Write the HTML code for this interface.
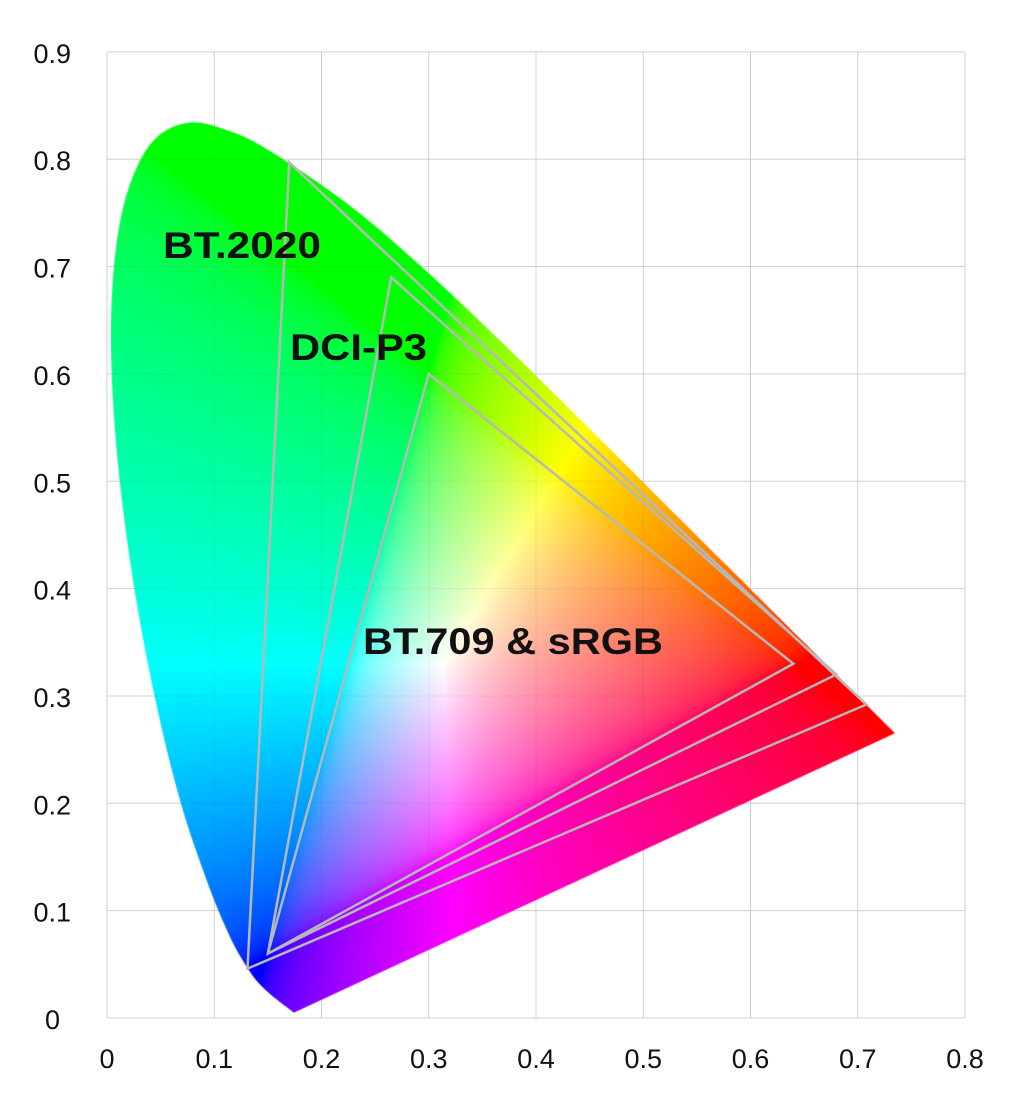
<!DOCTYPE html>
<html><head><meta charset="utf-8"><style>
html,body{margin:0;padding:0;background:#fff;}
#wrap{position:relative;width:1010px;height:1110px;}
canvas,svg{position:absolute;left:0;top:0;display:block;}
svg{font-family:"Liberation Sans",sans-serif;}
</style></head><body>
<div id="wrap">
<svg id="gridSvg" width="1010" height="1110"><g id="grid"></g></svg>
<canvas id="cv" width="1010" height="1110"></canvas>
<svg id="chart" width="1010" height="1110" viewBox="0 0 1010 1110" xmlns="http://www.w3.org/2000/svg">
<g id="gridOver"></g>
<g id="tris"></g>
<g id="axes"></g>
<g id="labels"></g>
</svg>
</div>
<script>
const locusX=[0.1741,0.1440,0.1241,0.1096,0.0913,0.0687,0.0454,0.0235,0.0082,0.0039,0.0139,0.0389,0.0743,0.1142,0.1547,0.2296,0.3016,0.3731,0.4441,0.5125,0.5752,0.6270,0.6915,0.7190,0.7347];
const locusY=[0.0050,0.0297,0.0578,0.0868,0.1327,0.2007,0.2950,0.4127,0.5384,0.6548,0.7502,0.8120,0.8338,0.8262,0.8059,0.7543,0.6923,0.6245,0.5547,0.4866,0.4242,0.3725,0.3083,0.2809,0.2653];
const gamutNames=["BT.2020","DCI-P3","BT.709 & sRGB"];
const gamutX=[[0.708,0.170,0.131],[0.680,0.265,0.150],[0.640,0.300,0.150]];
const gamutY=[[0.292,0.797,0.046],[0.320,0.690,0.060],[0.330,0.600,0.060]];
const xTicks=["0","0.1","0.2","0.3","0.4","0.5","0.6","0.7","0.8"];
const yTicks=["0","0.1","0.2","0.3","0.4","0.5","0.6","0.7","0.8","0.9"];
const NS="http://www.w3.org/2000/svg";
const X=v=>107+v*1072.5, Y=v=>1018-v*1073.5;
const invX=p=>(p-107)/1072.5, invY=p=>(1018-p)/1073.5;
function mk(t,a,p){const e=document.createElementNS(NS,t);for(const k in a)e.setAttribute(k,a[k]);p.appendChild(e);return e;}
const grid=document.getElementById('grid'),over=document.getElementById('gridOver'),axes=document.getElementById('axes');
xTicks.forEach((t,i)=>{const x=X(i*0.1);
 const l=mk('line',{x1:x,x2:x,y1:Y(0.9),y2:Y(0),stroke:'#dcdcdc','stroke-width':1},grid);
 
 mk('line',{x1:x,x2:x,y1:Y(0.9),y2:Y(0),stroke:'rgba(0,0,0,0.05)','stroke-width':1},over);
 const tx=mk('text',{x:x,y:1068,'text-anchor':'middle','font-size':27,fill:'#111'},axes);tx.textContent=t;
 });
yTicks.forEach((t,i)=>{const y=Y(i*0.1);
 const l=mk('line',{x1:X(0),x2:X(0.8),y1:y,y2:y,stroke:'#dcdcdc','stroke-width':1},grid);
 
 mk('line',{x1:X(0),x2:X(0.8),y1:y,y2:y,stroke:'rgba(0,0,0,0.05)','stroke-width':1},over);
 const tx=mk('text',{x:i==0?60:71,y:y+11,'text-anchor':'end','font-size':27,fill:'#111'},axes);tx.textContent=t;
 });
// smooth locus path (Catmull-Rom)
const P=locusX.map((x,i)=>[X(x),Y(locusY[i])]);
let d='M'+P[0][0]+','+P[0][1];
for(let i=0;i<P.length-1;i++){const p0=P[Math.max(i-1,0)],p1=P[i],p2=P[i+1],p3=P[Math.min(i+2,P.length-1)];
 d+='C'+(p1[0]+(p2[0]-p0[0])/6)+','+(p1[1]+(p2[1]-p0[1])/6)+' '+(p2[0]-(p3[0]-p1[0])/6)+','+(p2[1]-(p3[1]-p1[1])/6)+' '+p2[0]+','+p2[1];}
d+='Z';
// colour fill
const cv=document.getElementById('cv'),ctx=cv.getContext('2d');
const off=document.createElement('canvas');off.width=1010;off.height=1110;
const octx=off.getContext('2d'),img=octx.createImageData(1010,1110),D=img.data;
const g=v=>v<=0.0031308?12.92*v:1.055*Math.pow(v,1/2.4)-0.055;
for(let py=90;py<1020;py++){const y=invY(py);if(y<=0.001)continue;
 for(let px=100;px<920;px++){const x=invX(px);
  const Xc=x/y,Zc=(1-x-y)/y;
  let r=3.2406*Xc-1.5372-0.4986*Zc, gg=-0.9689*Xc+1.8758+0.0415*Zc, b=0.0557*Xc-0.2040+1.0570*Zc;
  r=Math.max(r,0);gg=Math.max(gg,0);b=Math.max(b,0);
  const m=Math.max(r,gg,b)||1;
  const k=(py*1010+px)*4;
  D[k]=255*g(r/m);D[k+1]=255*g(gg/m);D[k+2]=255*g(b/m);D[k+3]=255;}}
octx.putImageData(img,0,0);
ctx.save();ctx.clip(new Path2D(d));ctx.drawImage(off,0,0);ctx.restore();
const tg=document.getElementById('tris');
gamutX.forEach((xs,i)=>{const pts=xs.map((x,j)=>X(x)+','+Y(gamutY[i][j])).join(' ');
 const p=mk('polygon',{points:pts,fill:'none',stroke:'#b8b8b8','stroke-width':2.5},tg);
 });
const lpos=[[163,258,158],[290,360,137],[363,654,300]];
gamutNames.forEach((n,i)=>{const t=mk('text',{x:lpos[i][0],y:lpos[i][1],'font-size':37,'font-weight':'bold',fill:'#111',textLength:lpos[i][2],lengthAdjust:'spacingAndGlyphs'},document.getElementById('labels'));t.textContent=n;
 });
</script>
</body></html>
